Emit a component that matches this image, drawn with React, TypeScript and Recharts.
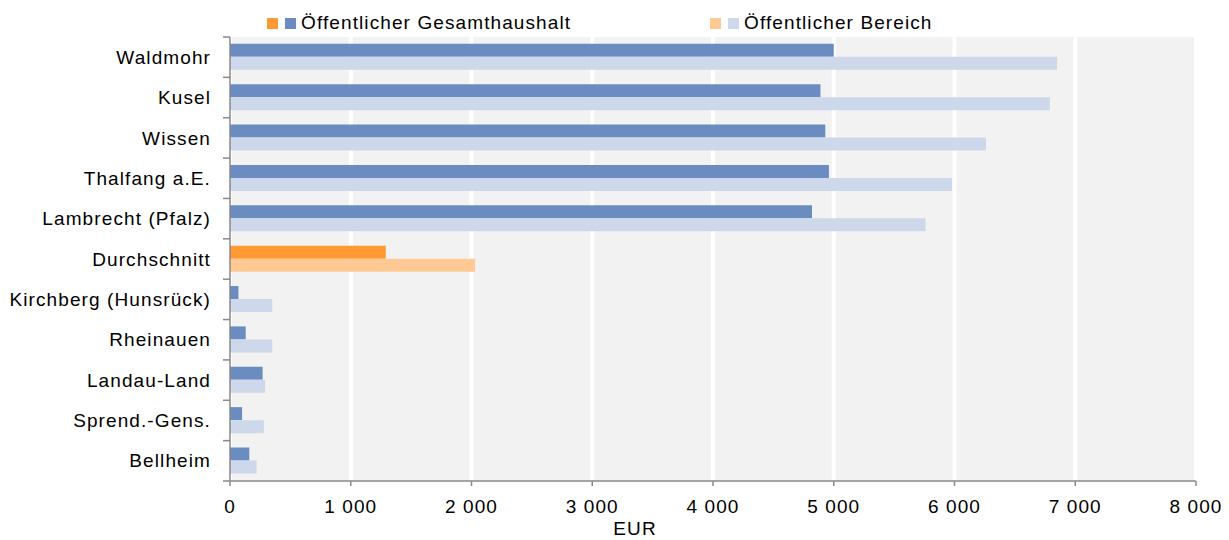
import { BarChart, Bar, XAxis, YAxis, CartesianGrid, Cell, Label } from "recharts";

const categories = [
  "Waldmohr",
  "Kusel",
  "Wissen",
  "Thalfang a.E.",
  "Lambrecht (Pfalz)",
  "Durchschnitt",
  "Kirchberg (Hunsrück)",
  "Rheinauen",
  "Landau-Land",
  "Sprend.-Gens.",
  "Bellheim",
];
const gesamthaushalt = [5000, 4890, 4930, 4960, 4820, 1290, 70, 130, 270, 100, 160];
const bereich = [6850, 6790, 6260, 5980, 5760, 2030, 350, 350, 290, 280, 220];
const xTicks = [0, 1000, 2000, 3000, 4000, 5000, 6000, 7000, 8000];
const highlight = "Durchschnitt";

const data = categories.map((name, i) => ({
  name,
  gesamt: gesamthaushalt[i],
  bereich: bereich[i],
}));

const FONT = "'Liberation Sans', Arial, sans-serif";
const FS = 19;
const LS = 1.1;
const AXIS = "#898989";
const DARK = "#6a8cc0";
const LIGHT = "#cdd8ea";
const ORANGE = "#ff9933";
const ORANGE_LIGHT = "#ffc993";

const W = 1229;
const H = 532;
const PLOT_H = 444;
const BAND = PLOT_H / categories.length;

const fmt = (v: number) => (v >= 1000 ? `${Math.floor(v / 1000)} ${String(v % 1000).padStart(3, "0")}` : String(v));

function CategoryTick(props: any) {
  const { x, y, payload, index } = props;
  const ax = x + 19;
  return (
    <g>
      <line x1={ax - 7} x2={ax} y1={y - BAND / 2} y2={y - BAND / 2} stroke={AXIS} strokeWidth={1.5} />
      {index === categories.length - 1 && (
        <line x1={ax - 7} x2={ax} y1={y + BAND / 2} y2={y + BAND / 2} stroke={AXIS} strokeWidth={1.5} />
      )}
      <text
        x={x}
        y={y}
        dy="0.35em"
        textAnchor="end"
        fontFamily={FONT}
        fontSize={FS}
        letterSpacing={LS}
        fill="#000"
      >
        {payload.value}
      </text>
    </g>
  );
}

function LegendItem({ a, b, text, left }: { a: string; b: string; text: string; left: number }) {
  const sq = (c: string, ml: number) => (
    <span style={{ display: "inline-block", width: 11, height: 11, background: c, marginLeft: ml }} />
  );
  return (
    <div style={{ position: "absolute", left, top: 4, display: "flex", alignItems: "center", whiteSpace: "nowrap", height: 22 }}>
      {sq(a, 0)}
      {sq(b, 7)}
      <span style={{ fontFamily: FONT, fontSize: FS, letterSpacing: LS, color: "#000", marginLeft: 5 }}>{text}</span>
    </div>
  );
}

export default function App() {
  return (
    <div style={{ position: "relative", width: W, height: H, marginLeft: -8 }}>
      <LegendItem a={ORANGE} b={DARK} text="Öffentlicher Gesamthaushalt" left={267} />
      <LegendItem a={ORANGE_LIGHT} b={LIGHT} text="Öffentlicher Bereich" left={710} />
      <BarChart
        width={W}
        height={H}
        data={data}
        layout="vertical"
        margin={{ top: 29, right: 33, left: 0, bottom: 5 }}
        barCategoryGap="17%"
        barGap={0}
      >
        <CartesianGrid horizontal={false} fill="#f2f2f2" stroke="#ffffff" strokeWidth={4} />
        <XAxis
          type="number"
          domain={[0, 8000]}
          ticks={xTicks}
          tickFormatter={fmt}
          height={54}
          tickSize={5}
          tickMargin={14}
          axisLine={{ stroke: AXIS, strokeWidth: 1.5 }}
          tickLine={{ stroke: AXIS, strokeWidth: 1.5 }}
          tick={{ fontFamily: FONT, fontSize: FS, fill: "#000", letterSpacing: LS }}
          interval={0}
        >
          <Label
            value="EUR"
            position="insideBottom"
            offset={0}
            dx={-78}
            style={{ fontFamily: FONT, fontSize: FS, fill: "#000", letterSpacing: LS }}
          />
        </XAxis>
        <YAxis
          type="category"
          dataKey="name"
          width={230}
          tickLine={false}
          tickSize={7}
          tickMargin={12}
          axisLine={{ stroke: AXIS, strokeWidth: 1.5 }}
          tick={<CategoryTick />}
          interval={0}
        />
        <Bar dataKey="gesamt" name="Öffentlicher Gesamthaushalt" isAnimationActive={false}>
          {data.map((d) => (
            <Cell key={d.name} fill={d.name === highlight ? ORANGE : DARK} />
          ))}
        </Bar>
        <Bar dataKey="bereich" name="Öffentlicher Bereich" isAnimationActive={false}>
          {data.map((d) => (
            <Cell key={d.name} fill={d.name === highlight ? ORANGE_LIGHT : LIGHT} />
          ))}
        </Bar>
      </BarChart>
    </div>
  );
}
